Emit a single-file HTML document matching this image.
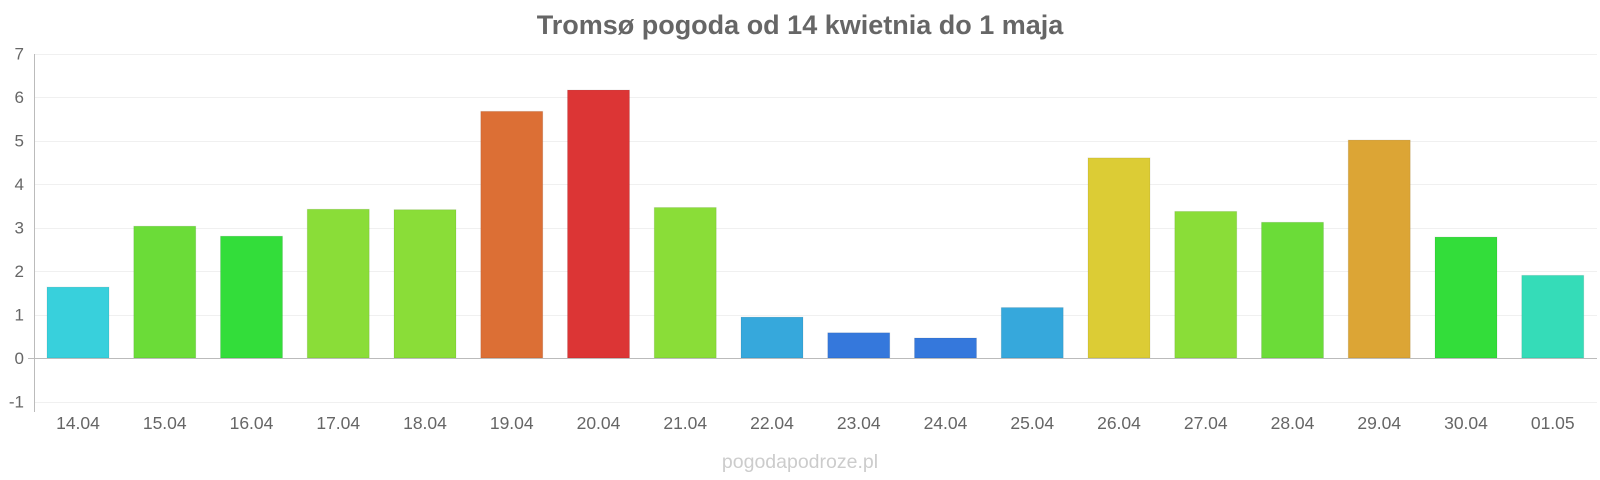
<!DOCTYPE html>
<html><head><meta charset="utf-8"><style>
html,body{margin:0;padding:0;background:#fff;}
svg{display:block;font-family:"Liberation Sans",sans-serif;}
</style></head><body>
<svg width="1600" height="480" viewBox="0 0 1600 480" xmlns="http://www.w3.org/2000/svg">
<text x="800" y="34" text-anchor="middle" font-size="27" font-weight="bold" fill="#666">Tromsø pogoda od 14 kwietnia do 1 maja</text>
<g stroke="#f0f0f0" stroke-width="1" id="grid"></g>
<g font-size="17" fill="#666" text-anchor="end" id="ylab"></g>
<g id="bars"></g>
<line x1="34.5" x2="34.5" y1="54" y2="412" stroke="#bbb"/>
<line x1="28" x2="1597" y1="358.5" y2="358.5" stroke="#bbb"/>
<g font-size="17.5" fill="#666" text-anchor="middle" id="labels"></g>
<text x="800" y="468" text-anchor="middle" font-size="19.5" fill="#ccc">pogodapodroze.pl</text>
<script>
var ns="http://www.w3.org/2000/svg";
function y(v){return 358-v*43.5;}
var g=document.getElementById("grid"),yl=document.getElementById("ylab");
for(var k=-1;k<=7;k++){if(k!=0){var ln=document.createElementNS(ns,"line");ln.setAttribute("x1",34);ln.setAttribute("x2",1597);ln.setAttribute("y1",Math.round(y(k))+0.5);ln.setAttribute("y2",Math.round(y(k))+0.5);g.appendChild(ln);}
var t=document.createElementNS(ns,"text");t.setAttribute("x",24);t.setAttribute("y",y(k)+6);t.textContent=k;yl.appendChild(t);}
var v=[1.63,3.03,2.8,3.42,3.41,5.67,6.16,3.46,0.94,0.58,0.46,1.16,4.6,3.37,3.12,5.01,2.78,1.9];
var c=["#38d0dc","#6bdc38","#33dd3a","#8add38","#8add38","#dc6f35","#dc3535","#8add38","#36a8dc","#3578dc","#3578dc","#36a8dc","#dccc35","#8add38","#6bdc38","#dca535","#33dd3a","#35dcb8"];
var l=["14.04","15.04","16.04","17.04","18.04","19.04","20.04","21.04","22.04","23.04","24.04","25.04","26.04","27.04","28.04","29.04","30.04","01.05"];
var b=document.getElementById("bars"),lb=document.getElementById("labels");
for(var i=0;i<18;i++){var cx=78+i*86.75,h=v[i]*43.5;
var r=document.createElementNS(ns,"rect");r.setAttribute("x",cx-31);r.setAttribute("width",62);r.setAttribute("y",358-h);r.setAttribute("height",h);r.setAttribute("fill",c[i]);r.setAttribute("stroke","rgba(0,0,0,0.08)");b.appendChild(r);
var t=document.createElementNS(ns,"text");t.setAttribute("x",cx);t.setAttribute("y",429);t.textContent=l[i];lb.appendChild(t);}
</script>
</svg>
</body></html>
